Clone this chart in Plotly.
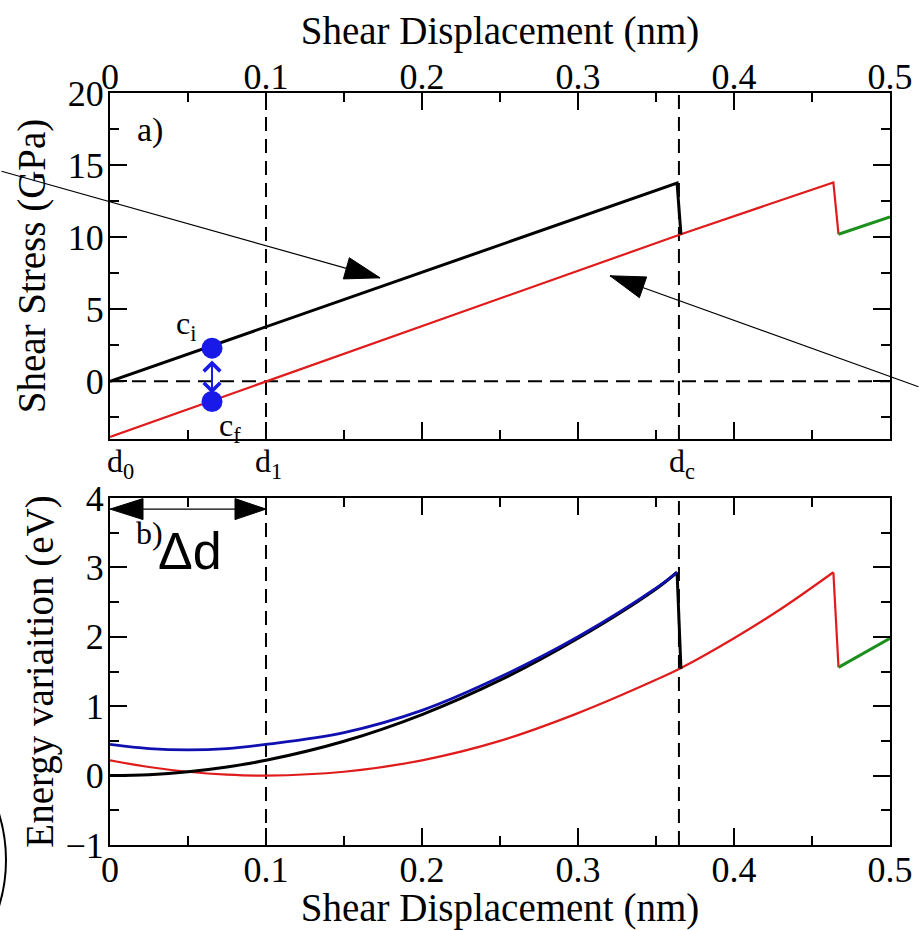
import math
import plotly.graph_objects as go

# ---------------- data ----------------
# panel a) shear stress (GPa) vs shear displacement (nm)
disp_black_a = [0.0, 0.3635, 0.366]
stress_black = [0.0, 13.75, 10.2]
disp_red_a = [0.0, 0.366, 0.4637, 0.467]
stress_red = [-3.85, 10.2, 13.8, 10.2]
disp_green_a = [0.467, 0.5]
stress_green = [10.2, 11.4]
config_x = [0.0654, 0.0654]           # c_i , c_f
config_stress = [2.3, -1.4]
config_labels = ["c<sub>i</sub>", "c<sub>f</sub>"]

# panel b) energy variation (eV) vs shear displacement (nm)
disp_b = [0.0, 0.025, 0.05, 0.075, 0.1, 0.15, 0.2, 0.25, 0.3, 0.35, 0.3635]
energy_black = [0.0, 0.014, 0.055, 0.124, 0.22, 0.495, 0.88, 1.375, 1.98, 2.69, 2.93]
energy_blue = [0.45, 0.39, 0.37, 0.39, 0.45, 0.62, 0.94, 1.42, 2.0, 2.7, 2.93]
black_drop_x = [0.3635, 0.366]
black_drop_e = [2.93, 1.54]
disp_red_b = [0.0, 0.025, 0.05, 0.075, 0.1, 0.15, 0.2, 0.25, 0.3, 0.35, 0.366, 0.4, 0.43, 0.4637]
energy_red = [0.22, 0.124, 0.055, 0.014, 0.0, 0.055, 0.22, 0.5, 0.9, 1.38, 1.55, 1.98, 2.40, 2.93]
red_drop_x = [0.4637, 0.467]
red_drop_e = [2.93, 1.56]
disp_green_b = [0.467, 0.5]
energy_green = [1.56, 1.98]

# reference displacements
d0, d1, dc = 0.0, 0.1, 0.3647
x_ticks = [0, 0.1, 0.2, 0.3, 0.4, 0.5]

# ---------------- style ----------------
W, H = 920, 930
ML, MR, MT, MB = 110, 30, 93, 85
PH = H - MT - MB
SERIF = "Liberation Serif"
BLACK = "#000000"
RED = "#e01b1b"
GREEN = "#1d8f1d"
BLUE_LINE = "#1010b0"
BLUE_MARK = "#1a1ae8"


def py2paper(py):
    return (H - MB - py) / PH


dom_a = [py2paper(439), 1.0]
dom_b = [0.0, py2paper(498)]

fig = go.Figure()

# panel a
fig.add_trace(go.Scatter(x=disp_red_a, y=stress_red, mode="lines",
                         line=dict(color=RED, width=2.2), xaxis="x", yaxis="y"))
fig.add_trace(go.Scatter(x=disp_green_a, y=stress_green, mode="lines",
                         line=dict(color=GREEN, width=3), xaxis="x", yaxis="y"))
fig.add_trace(go.Scatter(x=disp_black_a, y=stress_black, mode="lines",
                         line=dict(color=BLACK, width=3), xaxis="x", yaxis="y"))
fig.add_trace(go.Scatter(x=config_x, y=config_stress, mode="markers",
                         marker=dict(size=21, color=BLUE_MARK), cliponaxis=False,
                         xaxis="x", yaxis="y"))

# panel b
spl = dict(shape="spline", smoothing=1.0)
fig.add_trace(go.Scatter(x=disp_red_b, y=energy_red, mode="lines",
                         line=dict(color=RED, width=2.2, **spl), xaxis="x2", yaxis="y2"))
fig.add_trace(go.Scatter(x=red_drop_x, y=red_drop_e, mode="lines",
                         line=dict(color=RED, width=2.2), xaxis="x2", yaxis="y2"))
fig.add_trace(go.Scatter(x=disp_green_b, y=energy_green, mode="lines",
                         line=dict(color=GREEN, width=3), xaxis="x2", yaxis="y2"))
fig.add_trace(go.Scatter(x=disp_b, y=energy_black, mode="lines",
                         line=dict(color=BLACK, width=3, **spl), xaxis="x2", yaxis="y2"))
fig.add_trace(go.Scatter(x=black_drop_x, y=black_drop_e, mode="lines",
                         line=dict(color=BLACK, width=3), xaxis="x2", yaxis="y2"))
fig.add_trace(go.Scatter(x=disp_b, y=energy_blue, mode="lines",
                         line=dict(color=BLUE_LINE, width=2.8, **spl), xaxis="x2", yaxis="y2"))

axis_common = dict(
    showline=True, linecolor=BLACK, linewidth=2, mirror="ticks",
    ticks="inside", ticklen=17, tickwidth=2, tickcolor=BLACK,
    showgrid=False, zeroline=False, automargin=False,
    tickfont=dict(family=SERIF, size=36, color=BLACK),
    title_font=dict(family=SERIF, size=39, color=BLACK),
)
minor_x = dict(dtick=0.05, tick0=0, ticklen=9, tickwidth=2, ticks="inside", tickcolor=BLACK)

fig.update_layout(
    width=W, height=H,
    margin=dict(l=ML, r=MR, t=MT, b=MB),
    paper_bgcolor="white", plot_bgcolor="white",
    showlegend=False,
    xaxis=dict(axis_common, domain=[0, 1], anchor="y", side="top",
               range=[0, 0.5], tickvals=x_ticks, minor=minor_x, ticklabelstandoff=-12,
               title=dict(text="Shear Displacement (nm)", standoff=0)),
    yaxis=dict(axis_common, domain=dom_a, anchor="x", range=[-4, 20],
               tick0=0, dtick=5, ticklabelstandoff=-3,
               minor=dict(dtick=2.5, tick0=0, ticklen=9, tickwidth=2, ticks="inside", tickcolor=BLACK),
               title=dict(text="Shear Stress (GPa)", standoff=10)),
    xaxis2=dict(axis_common, domain=[0, 1], anchor="y2", side="bottom",
                range=[0, 0.5], tickvals=x_ticks, minor=minor_x, ticklabelstandoff=-8,
                title=dict(text="Shear Displacement (nm)", standoff=9)),
    yaxis2=dict(axis_common, domain=dom_b, anchor="x2", range=[-1, 4],
                tick0=0, dtick=1, ticklabelstandoff=-3,
                minor=dict(dtick=0.5, tick0=0, ticklen=9, tickwidth=2, ticks="inside", tickcolor=BLACK),
                title=dict(text="Energy variaition (eV)", standoff=0)),
)

dash = "14px,8px"
shapes = []
for xr, yr in (("x", "y domain"), ("x2", "y2 domain")):
    for xv in (d1, dc):
        shapes.append(dict(type="line", xref=xr, yref=yr, x0=xv, x1=xv, y0=0, y1=1,
                           line=dict(color=BLACK, width=2, dash=dash), layer="below"))
shapes.append(dict(type="line", xref="x domain", yref="y", x0=0, x1=1, y0=0, y1=0,
                   line=dict(color=BLACK, width=2, dash=dash), layer="below"))


def tri_head(xref, yref, tx, ty, dx, dy, length, half_w, color=BLACK):
    n = math.hypot(dx, dy)
    ux, uy = dx / n, dy / n
    bx, by = -ux * length, -uy * length
    nx, ny = -uy * half_w, ux * half_w
    pts = [(0, 0), (bx + nx, by + ny), (bx - nx, by - ny)]
    path = "M " + " L ".join(f"{x:.2f},{-y:.2f}" for x, y in pts) + " Z"
    return dict(type="path", xref=xref, yref=yref, xsizemode="pixel", ysizemode="pixel",
                xanchor=tx, yanchor=ty, path=path, fillcolor=color,
                line=dict(color=color, width=1), layer="above")


# pointer arrows in panel a
arrow1_tip = (0.1731, 7.18)
arrow2_tip = (0.3205, 7.32)
shapes.append(tri_head("x", "y", arrow1_tip[0], arrow1_tip[1], 380, 107, 35, 11))
shapes.append(tri_head("x", "y", arrow2_tip[0], arrow2_tip[1], -310, -108, 35, 11))
# delta-d arrow in panel b
dd_y = 3.84
shapes.append(tri_head("x2", "y2", d0, dd_y, -1, 0, 33, 10.5))
shapes.append(tri_head("x2", "y2", d1, dd_y, 1, 0, 31, 10.5))
# partial bracket at the lower-left edge
shapes.append(dict(type="circle", xref="paper", yref="paper",
                   x0=(-308 - ML) / (W - ML - MR), x1=(6 - ML) / (W - ML - MR),
                   y0=py2paper(1017), y1=py2paper(703),
                   line=dict(color=BLACK, width=2)))
fig.update_layout(shapes=shapes)

ann = []
ann.append(dict(x=arrow1_tip[0], y=arrow1_tip[1], xref="x", yref="y", text="",
                showarrow=True, arrowhead=0, arrowwidth=1.2, arrowcolor=BLACK,
                ax=-380, ay=-107, standoff=0))
ann.append(dict(x=arrow2_tip[0], y=arrow2_tip[1], xref="x", yref="y", text="",
                showarrow=True, arrowhead=0, arrowwidth=1.2, arrowcolor=BLACK,
                ax=320, ay=111.5, standoff=0))
ann.append(dict(x=d1, y=dd_y, xref="x2", yref="y2", ax=d0, ay=dd_y, axref="x2", ayref="y2",
                text="", showarrow=True, arrowhead=0, arrowwidth=1.2, arrowcolor=BLACK))
# c_i <-> c_f double arrow
ann.append(dict(x=config_x[0], y=-0.85, ax=config_x[0], ay=1.55, xref="x", yref="y",
                axref="x", ayref="y", text="", showarrow=True, arrowside="end+start",
                arrowhead=4, startarrowhead=4, arrowsize=1.6, startarrowsize=1.6,
                arrowwidth=2, arrowcolor=BLUE_MARK))

tf = dict(family=SERIF, size=32, color=BLACK)
ann.append(dict(x=0.0256, y=17.4, xref="x", yref="y", text="a)", showarrow=False, font=dict(tf, size=34)))
ann.append(dict(x=0.049, y=3.85, xref="x", yref="y", text=config_labels[0], showarrow=False, font=tf))
ann.append(dict(x=0.077, y=-3.2, xref="x", yref="y", text=config_labels[1], showarrow=False, font=tf))
for lab, xv, sh in (("d<sub>0</sub>", d0, -5), ("d<sub>1</sub>", d1, -13), ("d<sub>c</sub>", dc, -12)):
    ann.append(dict(x=xv, y=py2paper(463), xref="x", yref="paper", text=lab,
                    showarrow=False, xanchor="left", xshift=sh, font=tf))
ann.append(dict(x=0.0256, y=3.49, xref="x2", yref="y2", text="b)", showarrow=False, font=tf))
ann.append(dict(x=0.0513, y=3.23, xref="x2", yref="y2", text="Δd", showarrow=False,
                font=dict(family="Liberation Sans", size=52, color=BLACK)))
fig.update_layout(annotations=ann)

fig.write_html("out.html", config={"displayModeBar": False},
               post_script="document.body.style.margin='0px';")
